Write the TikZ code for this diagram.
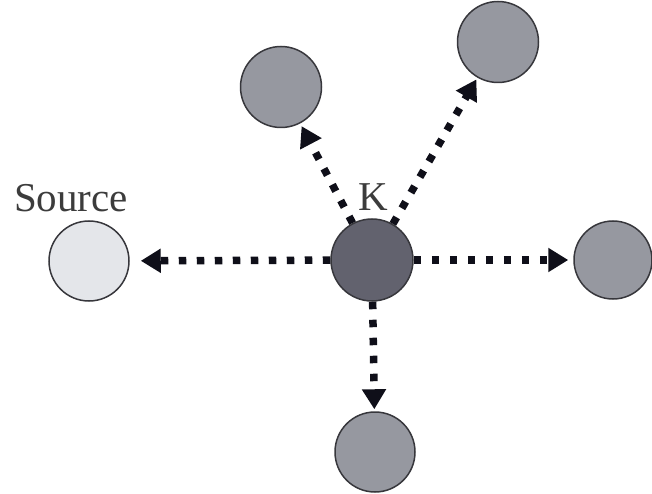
\documentclass[tikz,border=0pt]{standalone}
\usepackage{fontspec}
\setmainfont{Liberation Serif}
\usetikzlibrary{arrows.meta}
\definecolor{kfill}{RGB}{98,98,110}
\definecolor{nfill}{RGB}{150,152,160}
\definecolor{sfill}{RGB}{228,230,234}
\definecolor{edgec}{RGB}{55,55,60}
\definecolor{txt}{RGB}{60,60,60}
\definecolor{dotc}{RGB}{15,15,25}
\tikzset{
  nodecirc/.style={circle, draw=edgec, line width=1.5pt, minimum size=80pt, inner sep=0pt},
  flow/.style={draw=dotc, line width=7.5pt, dash pattern=on 7.5pt off 10.5pt,
     -{Triangle[length=20pt,width=23pt]}},
  lbl/.style={font=\fontsize{41}{46}\selectfont, text=txt, inner sep=0pt}
}
\begin{document}
\begin{tikzpicture}[x=1pt,y=-1pt]
\useasboundingbox (0,0) rectangle (652,494);
\node[nodecirc, fill=sfill] (src) at (89,261) {};
\node[nodecirc, fill=kfill, minimum size=82pt] (k) at (372,260) {};
\node[nodecirc, fill=nfill, minimum size=81pt] (tl) at (281,87) {};
\node[nodecirc, fill=nfill, minimum size=81pt] (tr) at (498,42) {};
\node[nodecirc, fill=nfill, minimum size=78pt] (r) at (613,260) {};
\node[nodecirc, fill=nfill, minimum size=80pt] (b) at (375,452) {};
\node[lbl] (srclbl) at (71,198) {Source};
\node[lbl] (klbl) at (373,197) {K};
\draw[flow, shorten >=11pt] (k) -- (src);
\draw[flow, shorten >=3pt] (k) -- (tl);
\draw[flow, shorten >=2pt] (k) -- (tr);
\draw[flow, shorten >=5pt] (k) -- (r);
\draw[flow, shorten >=2pt] (k) -- (b);
\end{tikzpicture}
\end{document}
